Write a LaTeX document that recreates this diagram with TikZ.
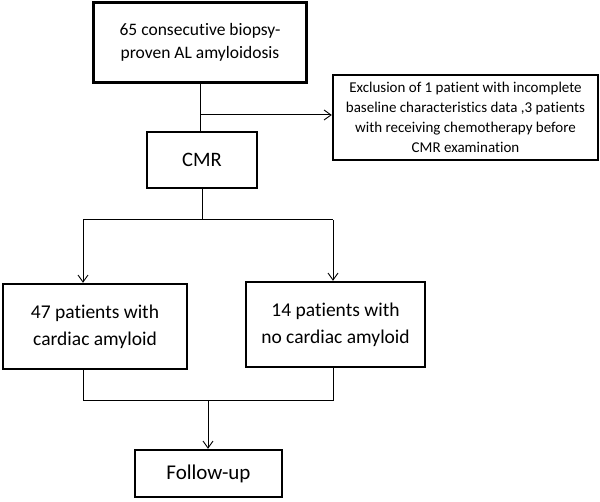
\documentclass[tikz,border=0pt]{standalone}
\usepackage{fontspec}
\setmainfont[Ligatures=NoCommon]{Carlito}
\usetikzlibrary{arrows.meta}
\begin{document}
\begin{tikzpicture}[x=1pt,y=-1pt,
  box/.style={draw,line width=2.4pt,align=center,inner sep=0pt,anchor=center},
  conn/.style={line width=1pt},
  arr/.style={conn,-{Straight Barb[length=7pt,width=10pt,line width=0.9pt]}}]
\useasboundingbox (0,0) rectangle (600,502);
\node[box,minimum width=213pt,minimum height=80pt,font=\fontsize{17.5}{23}\selectfont] (top) at (200,42.5) {65 consecutive biopsy-\\proven AL amyloidosis};
\node[box,minimum width=265pt,minimum height=85pt,font=\fontsize{15}{20}\selectfont] (excl) at (465.5,117.5) {Exclusion of 1 patient with incomplete\\baseline characteristics data ,3 patients\\with receiving chemotherapy before\\CMR examination};
\node[box,minimum width=110pt,minimum height=56pt,font=\fontsize{20.5}{26}\selectfont] (cmr) at (202,160) {CMR};
\node[box,minimum width=184pt,minimum height=85pt,font=\fontsize{19.5}{27}\selectfont] (left) at (95,326.5) {47 patients with\\cardiac amyloid};
\node[box,minimum width=179pt,minimum height=85pt,font=\fontsize{19.5}{27}\selectfont] (right) at (335.5,324.5) {14 patients with\\no cardiac amyloid};
\node[box,minimum width=147pt,minimum height=47pt,font=\fontsize{21}{26}\selectfont] (fol) at (208.5,473.5) {Follow-up};
\coordinate (t0) at (200,83);
\coordinate (b1) at (200,115);
\coordinate (c1) at (202,220);
\coordinate (l1) at (83,220);
\coordinate (r1) at (333,220);
\coordinate (l2) at (83,401);
\coordinate (r2) at (333,401);
\coordinate (m2) at (208,401);
\draw[conn] (t0) -- (t0 |- cmr.north);
\draw[arr] (b1) -- (excl.west |- b1);
\draw[conn] (cmr.south -| c1) -- (c1);
\draw[conn] (l1) -- (r1);
\draw[arr] (l1) -- (l1 |- left.north);
\draw[arr] (r1) -- (r1 |- right.north);
\draw[conn] (l2 |- left.south) -- (l2) -- (r2) -- (r2 |- right.south);
\draw[arr] (m2) -- (m2 |- fol.north);
\end{tikzpicture}
\end{document}
